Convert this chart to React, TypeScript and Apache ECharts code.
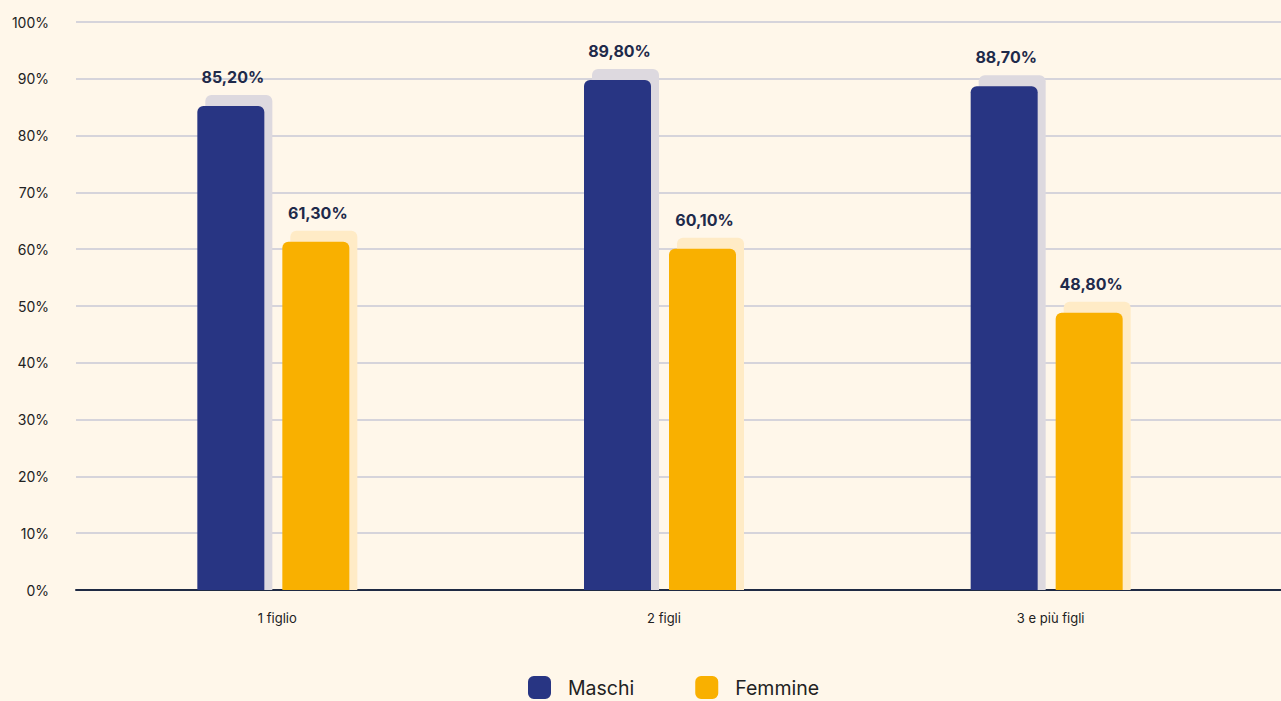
import React, { useEffect, useRef } from "react";
import * as echarts from "echarts";

// Categories and values (%)
const categories = ["1 figlio", "2 figli", "3 e più figli"];
const maschi = [85.2, 89.8, 88.7];
const femmine = [61.3, 60.1, 48.8];
const seriesNames = ["Maschi", "Femmine"];
const yTicks = { min: 0, max: 100, interval: 10 };

const NAVY = "#283583";
const AMBER = "#F9B000";
const NAVY_SHADE = "#DDD9DF";
const AMBER_SHADE = "#FFEBC6";
const BG = "#FFF7EA";
const FONT = "Inter, 'Noto Sans', sans-serif";

const BAR_W = 67;
const BAR_GAP = 18;

const fmt = (v: number) => v.toFixed(2).replace(".", ",") + "%";

export default function App() {
  const ref = useRef<HTMLDivElement>(null);

  useEffect(() => {
    if (!ref.current) return;
    const chart = echarts.init(ref.current, undefined, { renderer: "svg" });

    // shadow plates behind each bar: [categoryIndex, value, seriesIndex]
    const shadeData: number[][] = [];
    maschi.forEach((v, i) => shadeData.push([i, v, 0]));
    femmine.forEach((v, i) => shadeData.push([i, v, 1]));

    const label = {
      show: true,
      position: "top" as const,
      distance: 21,
      offset: [2, 0],
      fontFamily: FONT,
      fontSize: 16,
      fontWeight: "bold" as const,
      color: "#1E2A4A",
      formatter: (p: any) => fmt(p.value),
    };

    chart.setOption({
      animation: false,
      backgroundColor: BG,
      grid: [
        { left: 76, right: 0, top: 22, bottom: 111 },
        { left: 80, right: 41, top: 22, bottom: 111 },
      ],
      legend: {
        data: seriesNames,
        left: 528,
        top: 676,
        padding: 0,
        itemWidth: 23,
        itemHeight: 23,
        itemGap: 61,
        icon: "roundRect",
        textStyle: {
          fontFamily: FONT,
          fontSize: 19.5,
          color: "#222222",
          padding: [0, 0, 0, 12],
        },
      },
      xAxis: [
        {
          gridIndex: 0,
          type: "category",
          data: [""],
          axisTick: { show: false },
          axisLabel: { show: false },
          axisLine: { show: true, lineStyle: { color: "#1F2A44", width: 2 } },
        },
        {
          gridIndex: 1,
          type: "category",
          data: categories.map((c, i) => ({
            value: c,
            textStyle: i === 0 ? { padding: [0, 0, 6, 8] } : { padding: [0, 0, 0, 8] },
          })),
          axisTick: { show: false },
          axisLine: { show: false },
          axisLabel: {
            margin: 21,
            fontFamily: FONT,
            fontSize: 13,
            color: "#222222",
          },
        },
      ],
      yAxis: [
        {
          gridIndex: 0,
          type: "value",
          ...yTicks,
          axisLine: { show: false },
          axisTick: { show: false },
          axisLabel: {
            margin: 27,
            fontFamily: FONT,
            fontSize: 14,
            color: "#222222",
            formatter: "{value}%",
          },
          splitLine: { lineStyle: { color: "#C9C9D6", width: 1.5 } },
        },
        {
          gridIndex: 1,
          type: "value",
          ...yTicks,
          show: false,
          splitLine: { show: false },
        },
      ],
      series: [
        {
          type: "custom",
          name: "shade",
          xAxisIndex: 1,
          yAxisIndex: 1,
          z: 1,
          silent: true,
          encode: { x: 0, y: 1 },
          data: shadeData,
          renderItem: (params: any, api: any) => {
            const cat = api.value(0);
            const val = api.value(1);
            const s = api.value(2);
            const top = api.coord([cat, val]);
            const base = api.coord([cat, 0]);
            const half = (BAR_W + BAR_GAP) / 2;
            const cx = top[0] + (s === 0 ? -half : half);
            const x = cx - BAR_W / 2 + 8;
            const y = top[1] - 11;
            return {
              type: "rect",
              shape: { x, y, width: BAR_W, height: base[1] - y, r: [6, 6, 0, 0] },
              style: { fill: s === 0 ? NAVY_SHADE : AMBER_SHADE },
            };
          },
        },
        {
          type: "bar",
          name: seriesNames[0],
          xAxisIndex: 1,
          yAxisIndex: 1,
          z: 3,
          data: maschi,
          barWidth: BAR_W,
          barGap: `${(BAR_GAP / BAR_W) * 100}%`,
          itemStyle: { color: NAVY, borderRadius: [6, 6, 0, 0] },
          label,
        },
        {
          type: "bar",
          name: seriesNames[1],
          xAxisIndex: 1,
          yAxisIndex: 1,
          z: 3,
          data: femmine,
          barWidth: BAR_W,
          barGap: `${(BAR_GAP / BAR_W) * 100}%`,
          itemStyle: { color: AMBER, borderRadius: [6, 6, 0, 0] },
          label,
        },
      ],
    });

    return () => chart.dispose();
  }, []);

  return (
    <div
      ref={ref}
      style={{ position: "fixed", left: 0, top: 0, width: 1281, height: 701 }}
    />
  );
}
